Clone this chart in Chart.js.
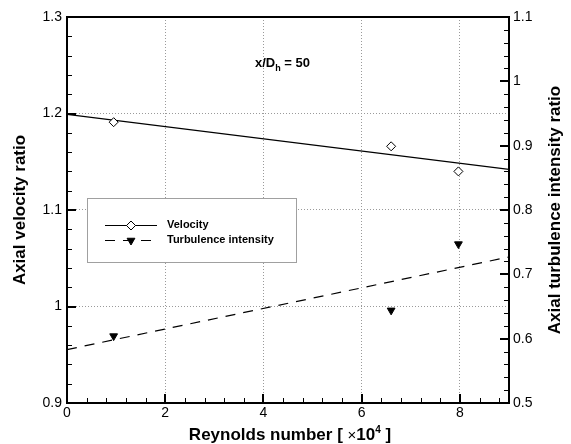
<!DOCTYPE html>
<html>
<head>
<meta charset="utf-8">
<script src="https://cdn.jsdelivr.net/npm/chart.js@4"></script>
<style>
html, body { margin: 0; padding: 0; background: #fff; }
#wrap { width: 571px; height: 444px; position: relative; }
</style>
</head>
<body>
<div id="wrap"><canvas id="myChart"></canvas></div>
<script>
// measured values (Reynolds number in units of 1e4)
var reynolds = [0.95, 6.6, 7.97];
var velocity = [1.191, 1.166, 1.140];
var turbulence = [0.604, 0.644, 0.747];

// straight-line fits, read at the axis ends
var fitX = [0, 9];
var velocityFit = [1.199, 1.142];
var turbulenceFit = [0.583, 0.727];

var seriesNames = ['Velocity', 'Turbulence intensity'];
var xTicks = [0, 2, 4, 6, 8];
var yTicks = [0.9, 1, 1.1, 1.2, 1.3];
var y2Ticks = [0.5, 0.6, 0.7, 0.8, 0.9, 1, 1.1];

var FONT = 'Arial, "Liberation Sans", sans-serif';
Chart.defaults.font.family = FONT;
Chart.defaults.color = '#000';

function pairs(xs, ys) {
    return xs.map(function (x, i) { return { x: x, y: ys[i] }; });
}

function gridColor(inner) {
    return function (c) {
        return inner.indexOf(c.tick.value) >= 0 ? '#9a9a9a' : 'rgba(0,0,0,0)';
    };
}

var decor = {
    id: 'decor',
    afterDatasetsDraw: function (chart) {
        var ctx = chart.ctx;
        var a = chart.chartArea;
        var sx = chart.scales.x, sy = chart.scales.y, sy2 = chart.scales.y1;
        var i, p;
        ctx.save();
        ctx.strokeStyle = '#000';

        // inward ticks, minor then major
        ctx.lineWidth = 1;
        ctx.beginPath();
        for (i = 1; i < 23; i++) {
            if (i % 5 === 0) continue;
            p = Math.round(sx.getPixelForValue(i * 0.4)) + 0.5;
            ctx.moveTo(p, a.bottom); ctx.lineTo(p, a.bottom - 5);
        }
        for (i = 1; i < 20; i++) {
            if (i % 5 === 0) continue;
            p = Math.round(sy.getPixelForValue(0.9 + i * 0.02)) + 0.5;
            ctx.moveTo(a.left, p); ctx.lineTo(a.left + 5, p);
        }
        for (i = 1; i < 30; i++) {
            if (i % 5 === 0) continue;
            p = Math.round(sy2.getPixelForValue(0.5 + i * 0.02)) + 0.5;
            ctx.moveTo(a.right, p); ctx.lineTo(a.right - 5, p);
        }
        ctx.stroke();

        ctx.lineWidth = 2;
        ctx.beginPath();
        xTicks.forEach(function (v) {
            p = Math.round(sx.getPixelForValue(v));
            ctx.moveTo(p, a.bottom); ctx.lineTo(p, a.bottom - 9);
        });
        yTicks.forEach(function (v) {
            p = Math.round(sy.getPixelForValue(v));
            ctx.moveTo(a.left, p); ctx.lineTo(a.left + 9, p);
        });
        y2Ticks.forEach(function (v) {
            p = Math.round(sy2.getPixelForValue(v));
            ctx.moveTo(a.right, p); ctx.lineTo(a.right - 9, p);
        });
        ctx.stroke();

        // frame
        ctx.strokeRect(a.left, a.top, a.right - a.left, a.bottom - a.top);

        // legend box
        ctx.fillStyle = '#fff';
        ctx.fillRect(87, 198, 209, 64);
        ctx.lineWidth = 1;
        ctx.strokeStyle = '#a0a0a0';
        ctx.strokeRect(87.5, 198.5, 209, 64);

        var rows = [225, 240];
        var dsIdx = [0, 2];
        ctx.strokeStyle = '#000';
        rows.forEach(function (y, k) {
            var ds = chart.data.datasets[dsIdx[k]];
            var line = chart.data.datasets[dsIdx[k] + 1];
            ctx.save();
            ctx.lineWidth = 1;
            ctx.setLineDash(line.borderDash || []);
            ctx.beginPath();
            ctx.moveTo(105, y + 0.5); ctx.lineTo(157, y + 0.5);
            ctx.stroke();
            ctx.restore();
            ctx.fillStyle = ds.pointBackgroundColor;
            ctx.strokeStyle = '#000';
            ctx.lineWidth = 1;
            Chart.helpers.drawPoint(ctx, {
                pointStyle: ds.pointStyle,
                radius: ds.pointRadius,
                rotation: ds.pointRotation || 0,
                borderWidth: 1
            }, 131, y + 0.5);
            ctx.fillStyle = '#000';
            ctx.font = 'bold 11px ' + FONT;
            ctx.textAlign = 'left';
            ctx.textBaseline = 'middle';
            ctx.fillText(seriesNames[k], 167, y);
        });

        // annotation x/Dh = 50
        ctx.fillStyle = '#000';
        ctx.textBaseline = 'alphabetic';
        ctx.textAlign = 'left';
        ctx.font = 'bold 13px ' + FONT;
        var tx = 255;
        ctx.fillText('x/D', tx, 67);
        tx += ctx.measureText('x/D').width;
        ctx.font = 'bold 9px ' + FONT;
        ctx.fillText('h', tx, 71);
        tx += ctx.measureText('h').width;
        ctx.font = 'bold 13px ' + FONT;
        ctx.fillText(' = 50', tx, 67);

        // x axis title with superscript exponent
        var parts = [
            { t: 'Reynolds number [ ', f: 'bold 17px ', dy: 0 },
            { t: '\u00d7', f: '15px ', dy: 0 },
            { t: '10', f: 'bold 17px ', dy: 0 },
            { t: '4', f: 'bold 10px ', dy: -7 },
            { t: ' ]', f: 'bold 17px ', dy: 0 }
        ];
        var total = 0;
        parts.forEach(function (q) { ctx.font = q.f + FONT; q.w = ctx.measureText(q.t).width; total += q.w; });
        tx = 290 - total / 2;
        parts.forEach(function (q) {
            ctx.font = q.f + FONT;
            ctx.fillText(q.t, tx, 440 + q.dy);
            tx += q.w;
        });

        // right axis title, reading upward
        ctx.save();
        ctx.translate(555, 210);
        ctx.rotate(-Math.PI / 2);
        ctx.font = 'bold 17px ' + FONT;
        ctx.textAlign = 'center';
        ctx.textBaseline = 'middle';
        ctx.fillText('Axial turbulence intensity ratio', 0, 0);
        ctx.restore();

        ctx.restore();
    }
};

var data = {
    datasets: [{
        label: seriesNames[0],
        data: pairs(reynolds, velocity),
        yAxisID: 'y',
        showLine: false,
        pointStyle: 'rectRot',
        pointRadius: 4.5,
        pointBackgroundColor: '#fff',
        pointBorderColor: '#000',
        pointBorderWidth: 1
    }, {
        label: seriesNames[0] + ' fit',
        data: pairs(fitX, velocityFit),
        yAxisID: 'y',
        borderColor: '#000',
        borderWidth: 1.2,
        pointRadius: 0
    }, {
        label: seriesNames[1],
        data: pairs(reynolds, turbulence),
        yAxisID: 'y1',
        showLine: false,
        pointStyle: 'triangle',
        pointRotation: 180,
        pointRadius: 4.5,
        pointBackgroundColor: '#000',
        pointBorderColor: '#000',
        pointBorderWidth: 1
    }, {
        label: seriesNames[1] + ' fit',
        data: pairs(fitX, turbulenceFit),
        yAxisID: 'y1',
        borderColor: '#000',
        borderWidth: 1.2,
        borderDash: [10, 8],
        pointRadius: 0
    }]
};

var config = {
    type: 'line',
    data: data,
    options: {
        responsive: true,
        maintainAspectRatio: false,
        animation: false,
        layout: { padding: { top: 17, left: 0, right: 0, bottom: 0 } },
        plugins: {
            legend: { display: false },
            tooltip: { enabled: false }
        },
        scales: {
            x: {
                type: 'linear',
                position: 'bottom',
                min: 0,
                max: 9,
                afterBuildTicks: function (s) { s.ticks = xTicks.map(function (v) { return { value: v }; }); },
                afterFit: function (s) { s.height = 41; },
                ticks: { padding: 2, font: { size: 14 }, color: '#000', maxRotation: 0,
                         callback: function (v) { return String(v); } },
                grid: { color: gridColor([2, 4, 6, 8]), drawTicks: false, lineWidth: 1 },
                border: { display: false, dash: [1, 2] },
                title: { display: false }
            },
            y: {
                type: 'linear',
                position: 'left',
                min: 0.9,
                max: 1.3,
                afterBuildTicks: function (s) { s.ticks = yTicks.map(function (v) { return { value: v }; }); },
                afterFit: function (s) { s.width = 67; },
                ticks: { padding: 5, font: { size: 14 }, color: '#000',
                         callback: function (v) { return String(v); } },
                grid: { color: gridColor([1, 1.1, 1.2]), drawTicks: false, lineWidth: 1 },
                border: { display: false, dash: [1, 2] },
                title: { display: true, text: 'Axial velocity ratio',
                         font: { size: 17, weight: 'bold' }, color: '#000', padding: { top: 10, bottom: 0 } }
            },
            y1: {
                type: 'linear',
                position: 'right',
                min: 0.5,
                max: 1.1,
                afterBuildTicks: function (s) { s.ticks = y2Ticks.map(function (v) { return { value: v }; }); },
                afterFit: function (s) { s.width = 62; },
                ticks: { padding: 4, font: { size: 14 }, color: '#000',
                         callback: function (v) { return String(v); } },
                grid: { display: false, drawTicks: false },
                border: { display: false }
            }
        }
    },
    plugins: [decor]
};

var myChart = new Chart(
    document.getElementById('myChart').getContext('2d'),
    config
);
</script>
</body>
</html>
